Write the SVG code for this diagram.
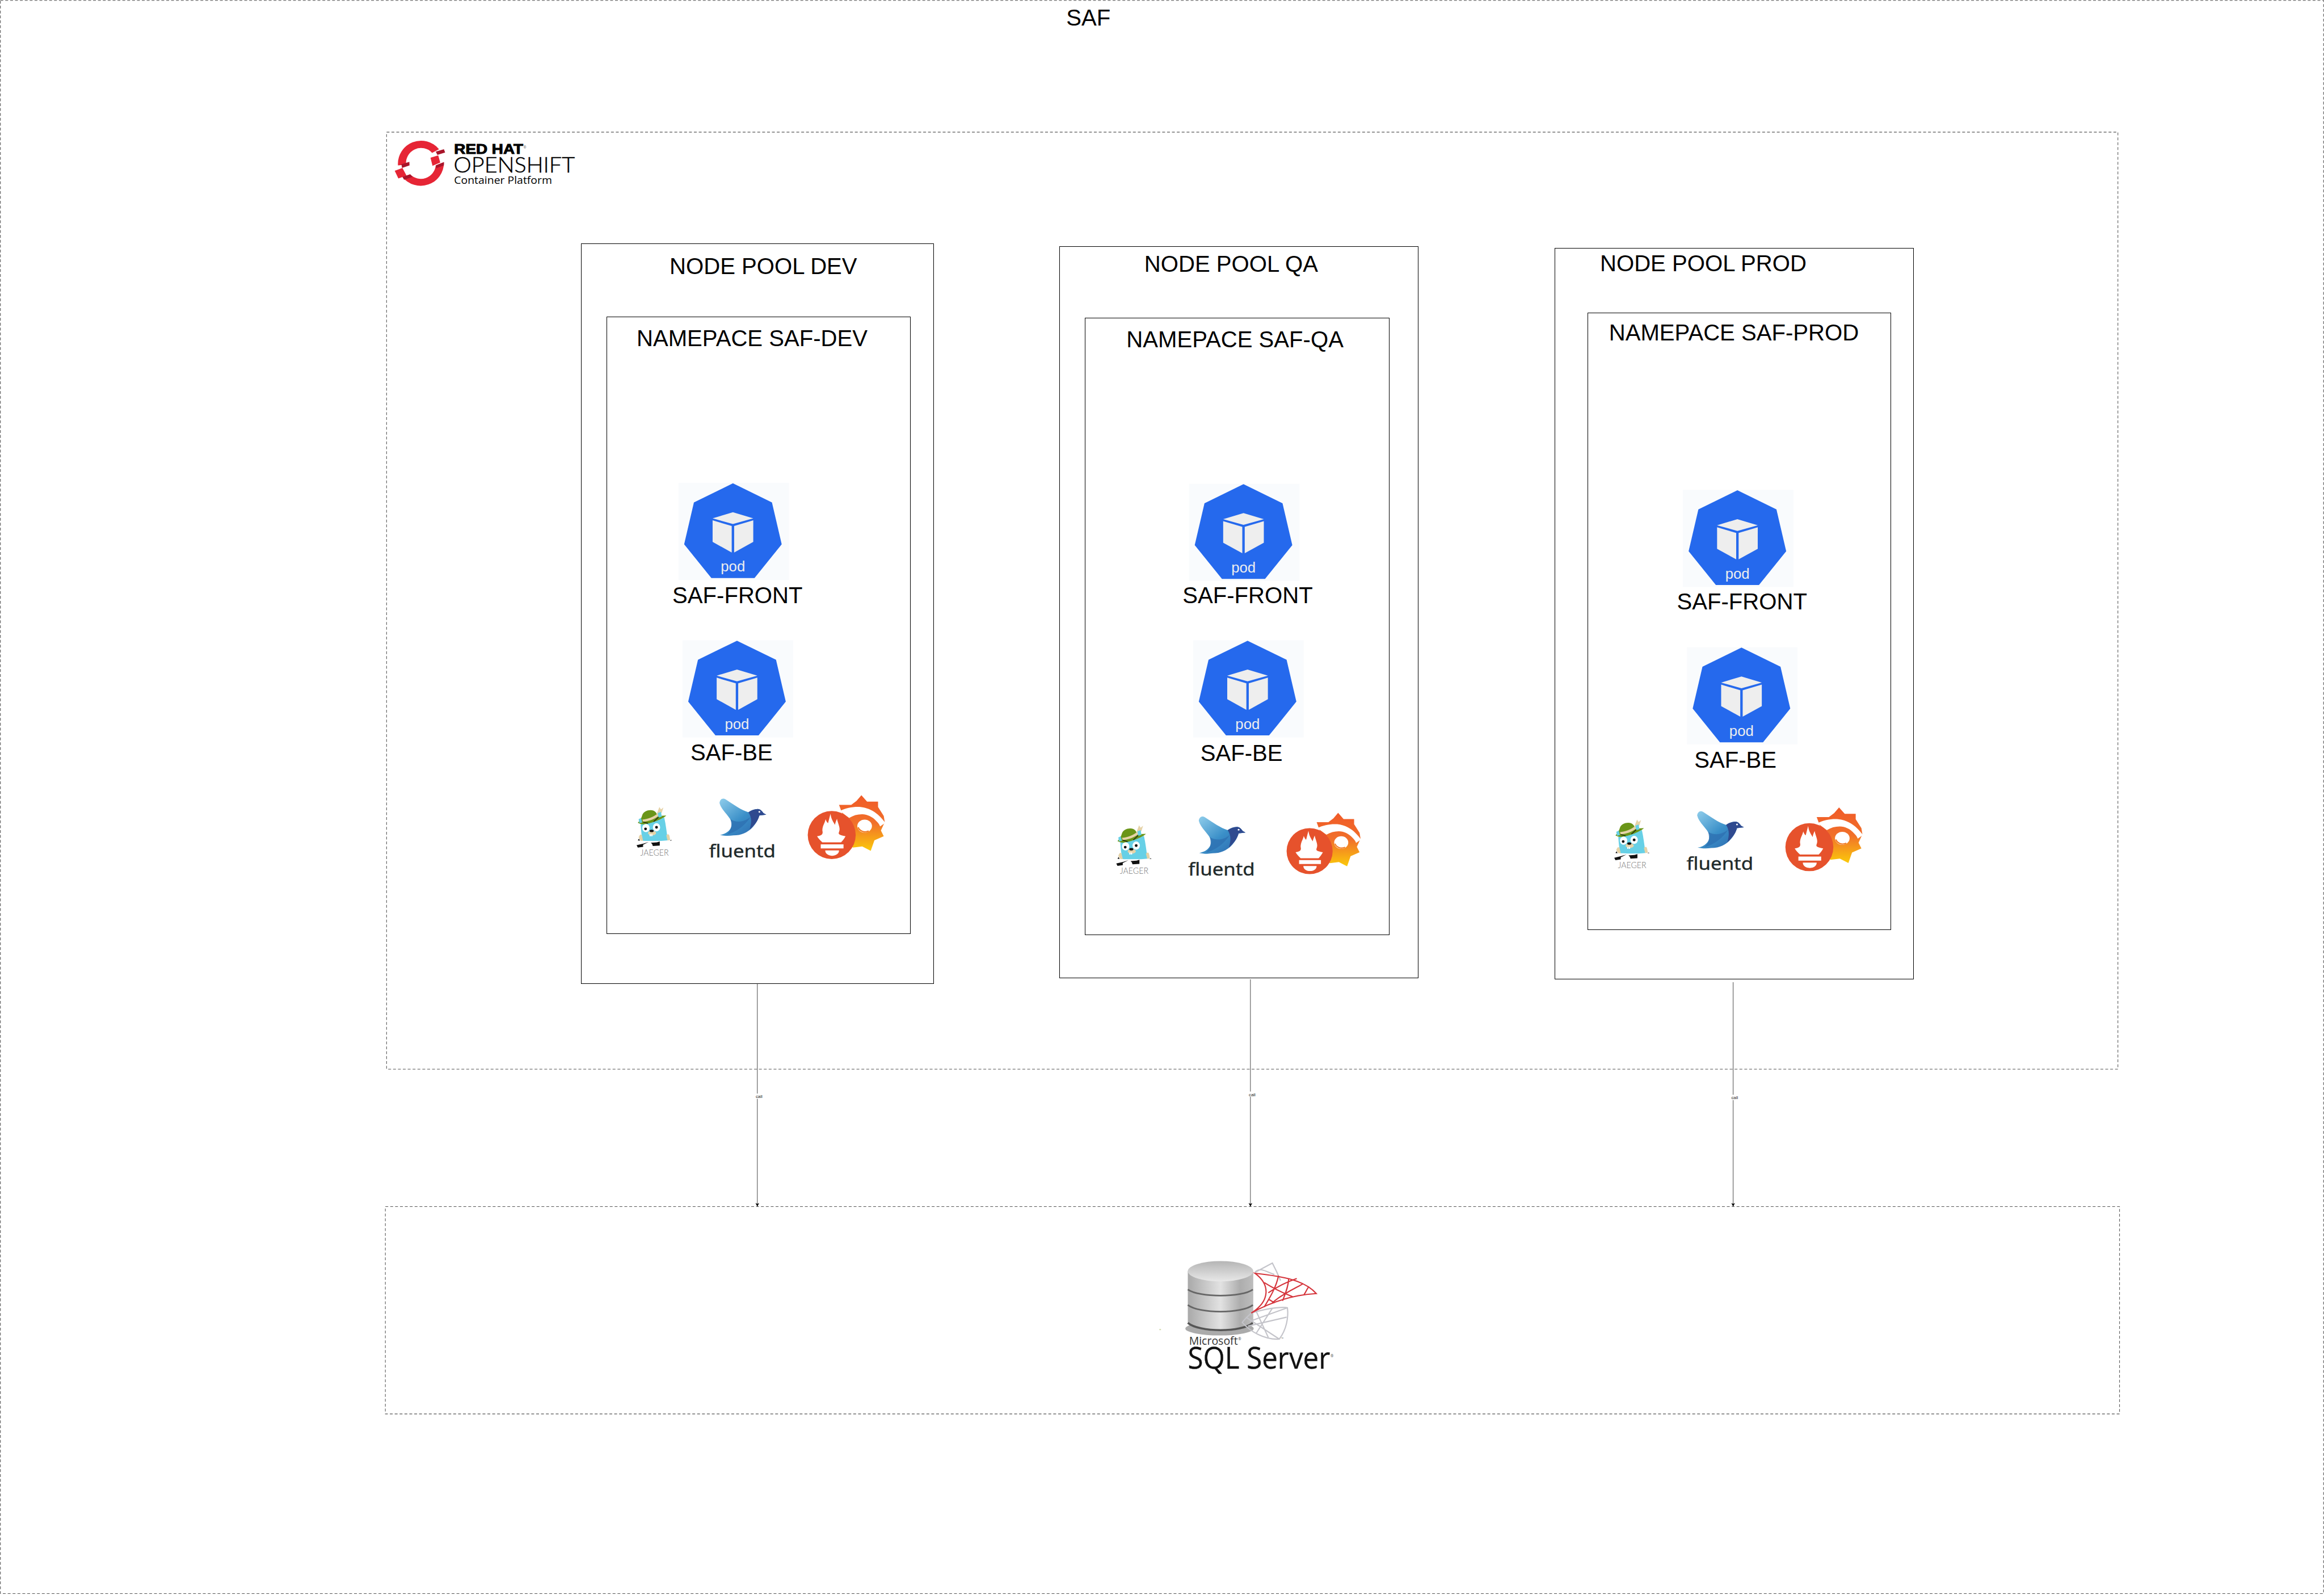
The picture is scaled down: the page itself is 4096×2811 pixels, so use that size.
<svg xmlns="http://www.w3.org/2000/svg" width="4096" height="2811" viewBox="0 0 4096 2811">
<style>
.box{fill:#fff;stroke:#000;stroke-width:1.4;shape-rendering:crispEdges}
.dash{fill:none;stroke:#555;stroke-width:1.5;stroke-dasharray:7 5}
.t{font-family:"Liberation Sans",Arial,sans-serif;font-size:56px;fill:#000}
.pod{font-family:"Liberation Sans",Arial,sans-serif;font-size:36px;fill:#eee;text-anchor:middle}
.jg{font-family:"Lato","Liberation Sans",sans-serif;font-weight:300;font-size:21px;fill:#777}
.fd{font-family:"Noto Sans","Liberation Sans",sans-serif;font-size:44px;fill:#1f2a2b;stroke:#1f2a2b;stroke-width:.6}
.call{font-family:"Liberation Sans",Arial,sans-serif;font-size:11px;fill:#222}
.conn{fill:none;stroke:#555;stroke-width:1.5}
</style>
<defs>
<marker id="arr" markerUnits="userSpaceOnUse" markerWidth="12" markerHeight="12" viewBox="0 0 12 12" refX="10" refY="6" orient="auto"><path d="M1.5,1.5 L10,6 L1.5,10.5 L3.5,6Z" fill="#000"/></marker>
<linearGradient id="birdG" x1="0" y1="0" x2="1" y2="1"><stop offset="0" stop-color="#8fcdeb"/><stop offset=".5" stop-color="#3a8fc8"/><stop offset="1" stop-color="#2a5fa8"/></linearGradient>
<linearGradient id="gearG" x1="0" y1="0" x2="0" y2="1"><stop offset="0" stop-color="#f05a28"/><stop offset=".5" stop-color="#f1702a"/><stop offset="1" stop-color="#fbca0a"/></linearGradient>
<linearGradient id="cylG" x1="0" y1="0" x2="1" y2="0"><stop offset="0" stop-color="#a9a9a9"/><stop offset=".5" stop-color="#e2e2e2"/><stop offset=".8" stop-color="#adadad"/><stop offset="1" stop-color="#bdbdbd"/></linearGradient>
<linearGradient id="topG" x1="0" y1="0" x2="0" y2="1"><stop offset="0" stop-color="#b5b5b5"/><stop offset="1" stop-color="#e8e8e8"/></linearGradient>
<g id="podIcon">
<rect width="272" height="239" fill="#f9fbfd"/>
<polygon points="134,1 230,48 254,151 187,234 81,234 14,151 38,48" fill="#2569ed"/>
<polygon points="134,72 184,87 134,101 84,87" fill="#eee"/>
<polygon points="84,92 131,106 131,171 84,145" fill="#eee"/>
<polygon points="137,106 184,92 184,145 137,171" fill="#eee"/>
</g>
<g id="jaegerArt">
<path d="M8,45 C20,40 50,34 66,28 C70,45 72,65 75,84 C60,86 30,86 13,85 C10,70 9,60 8,45Z" fill="#67d0e6"/>
<path d="M3,77 C6,70 8,68 11,72 L14,85 L8,85Z M71,72 C74,68 78,68 79,74 C80,80 82,84 78,84 L74,84Z" fill="#e6d3a8"/>
<path d="M1,41 C6,36 10,30 12,22 C16,10 38,5 46,16 L50,24 L71,23 C62,32 34,42 20,44 C12,46 6,44 1,41Z" fill="#6a9518"/>
<path d="M12,33 C26,32 40,26 50,18 L52,24 C42,32 26,38 14,38Z" fill="#e6d3a8"/>
<path d="M48,18 L54,2 L58,8 L64,3 L60,16 L52,22Z" fill="#e6d3a8"/>
<path d="M3,32 L9,29 L12,40 L5,42Z M50,17 L58,14 L60,26 L52,28Z" fill="#67d0e6"/>
<path d="M14,39 L26,42 M40,38 L52,27" stroke="#111" stroke-width="1.6" fill="none"/>
<ellipse cx="21" cy="54" rx="9" ry="10" fill="#fff"/><ellipse cx="47" cy="52" rx="9" ry="10" fill="#fff"/>
<circle cx="20" cy="56" r="3.4" fill="#111"/><circle cx="47" cy="52" r="3.4" fill="#111"/>
<ellipse cx="36" cy="66" rx="10" ry="6" fill="#e6d3a8"/><ellipse cx="35" cy="61" rx="5" ry="3" fill="#111"/>
<rect x="30" y="69" width="3" height="5" fill="#fff"/><rect x="34" y="69" width="3" height="5" fill="#fff"/>
<path d="M-2,96 L15,92 L28,88 L14,95 L14,100 L1,102Z M33,90 L48,89 L55,87 L55,97 L38,98 L36,93Z" fill="#111"/>
<path d="M1,84 L4,80 L6,85Z M82,83 L85,84 L80,85Z" fill="#111"/>
</g>
<g id="birdArt">
<path d="M26,12 C27,2 35,-1 42,4 C60,16 80,30 97,35 C105,30 112,27 120,27 C127,27 131,33 134,37 L141,41 L124,43 C118,62 100,92 60,92 C48,94 36,93 27,91 C45,88 58,76 56,60 C52,45 30,30 26,12Z" fill="url(#birdG)"/>
<path d="M53,52 C70,63 90,58 103,46 C92,62 74,82 44,90 C54,80 58,70 53,52Z" fill="#2e6fb0" opacity=".75"/>
<path d="M97,35 C105,30 112,27 120,27 C127,27 131,33 134,37 L141,41 L124,43 C120,58 112,66 100,78 C105,62 106,48 97,35Z" fill="#2f4a8f"/>
<circle cx="124" cy="34" r="2.2" fill="#fff"/>
</g>
<g id="promGraf">
<path d="M132,-39 L146,-23 L173,-23 L173,-10 L187,12 L189.5,27 L180,48 L187,62 L164,72 L155,98 L134,87 L111,90 L66,42 L90,20 L77,-15 L107,-15 L120,-25Z" fill="url(#gearG)"/>
<path d="M79,0 C95,-8 112,-11 130,-10 C150,-8 166,2 176,12 C182,18 186,23 191,29 L178,38 C176,32 172,28 169,25 C160,14 146,8 134,8 C122,8 112,11 102,17Z" fill="#fff"/>
<ellipse cx="140" cy="37" rx="18" ry="16" fill="#fff"/>
<path d="M150,49 C140,54 128,50 124,40" fill="none" stroke="#f07a24" stroke-width="3"/>
<circle cx="59" cy="59" r="59" fill="#e6522c"/>
<path d="M56,7 C58,22 64,28 67,34 C68,28 70,24 72,19 C74,30 80,40 78,48 C76,56 72,58 93,62 C90,68 85,74 82,77 L36,77 C30,72 26,67 23,62 C36,60 38,56 36,48 C36,36 42,30 44,20 C46,26 48,28 50,30 C52,22 54,14 56,7Z" fill="#fff"/>
<rect x="32" y="82" width="56" height="10" fill="#fff"/>
<path d="M43,97 L77,97 C77,106 68,110 60,110 C52,110 43,106 43,97Z" fill="#fff"/>
</g>
</defs>
<rect width="4096" height="2811" fill="#fff"/>
<g transform="scale(0.71646)">
<g id="saf"><rect class="dash" x="1" y="1" width="5715" height="3919"/><text class="t" x="2623" y="63">SAF</text></g>
<g id="openshift">
<rect class="dash" x="951" y="325" width="4259" height="2305"/>
<path d="M979,407 A57,57 0 0 1 1080,367 L1063,376 A37,37 0 0 0 999,405Z" fill="#e62535"/>
<path d="M1072,373 L1092,367 L1095,375 L1076,381Z M987.500,404 L1007,398 L1007.400,407 L989,413Z" fill="#a8152a"/>
<path d="M971,420 L990,413 L1000,432 L980,439Z M1059,388 L1078,382 L1083,400 L1064,408Z" fill="#e62535"/>
<path d="M1092,399 A57,57 0 0 1 990,435 L1009,429 A37,37 0 0 0 1072,407Z" fill="#e62535"/>
<path d="M990,435 L1009,429 L1015,435 L994,442Z M1072,407 L1092,399 L1092,407 L1073,414Z" fill="#a8152a"/>
<text x="1117" y="378" font-family="'Liberation Sans',Arial,sans-serif" font-weight="700" font-size="34" textLength="170" lengthAdjust="spacingAndGlyphs" stroke="#000" stroke-width="1.4">RED HAT</text>
<text x="1288" y="366" font-family="'Liberation Sans',Arial,sans-serif" font-size="9" fill="#555">®</text>
<text x="1116" y="424" font-family="Lato,'Open Sans',sans-serif" font-weight="300" font-size="53" textLength="298" lengthAdjust="spacingAndGlyphs" fill="#000" stroke="#000" stroke-width=".7">OPENSHIFT</text>
<text x="1117" y="452" font-family="'Open Sans','Liberation Sans',sans-serif" font-size="26" textLength="241" lengthAdjust="spacingAndGlyphs">Container Platform</text>
</g>
<g id="pool-dev">
<rect class="box" x="1429.500" y="600" width="867" height="1820"/>
<text class="t" x="1647" y="674">NODE POOL DEV</text>
</g>
<g id="ns-dev">
<rect class="box" x="1492.500" y="780" width="747.500" height="1517"/>
<text class="t" x="1566" y="851">NAMEPACE SAF-DEV</text>
</g>
<g id="dev-front"><use href="#podIcon" x="1669" y="1188"/><text class="pod" x="1803" y="1406">pod</text><text class="t" x="1654" y="1483">SAF-FRONT</text></g>
<g id="dev-be"><use href="#podIcon" x="1679" y="1575"/><text class="pod" x="1813" y="1793">pod</text><text class="t" x="1698.500" y="1871">SAF-BE</text></g>
<g id="dev-jaeger"><use href="#jaegerArt" x="1568" y="1983"/><text class="jg" x="1575" y="2105" textLength="70" lengthAdjust="spacingAndGlyphs">JAEGER</text></g>
<g id="dev-fluentd"><use href="#birdArt" x="1744" y="1963"/><text class="fd" x="1744" y="2109" textLength="164" lengthAdjust="spacingAndGlyphs">fluentd</text></g>
<g id="dev-prom"><use href="#promGraf" x="1987" y="1995"/></g>
<g id="pool-qa">
<rect class="box" x="2607" y="607" width="881" height="1798"/>
<text class="t" x="2815" y="669">NODE POOL QA</text>
</g>
<g id="ns-qa">
<rect class="box" x="2669" y="782" width="748" height="1517"/>
<text class="t" x="2771" y="854">NAMEPACE SAF-QA</text>
</g>
<g id="qa-front"><use href="#podIcon" x="2925" y="1190"/><text class="pod" x="3059" y="1408">pod</text><text class="t" x="2909" y="1484">SAF-FRONT</text></g>
<g id="qa-be"><use href="#podIcon" x="2935" y="1575"/><text class="pod" x="3069" y="1793">pod</text><text class="t" x="2953" y="1872">SAF-BE</text></g>
<g id="qa-jaeger"><use href="#jaegerArt" x="2748" y="2028"/><text class="jg" x="2755" y="2150" textLength="70" lengthAdjust="spacingAndGlyphs">JAEGER</text></g>
<g id="qa-fluentd"><use href="#birdArt" x="2923" y="2007"/><text class="fd" x="2923" y="2153" textLength="164" lengthAdjust="spacingAndGlyphs">fluentd</text></g>
<g id="qa-prom"><use href="#promGraf" transform="translate(3165,2037) scale(.96)"/></g>
<g id="pool-prod">
<rect class="box" x="3825" y="611" width="882" height="1798"/>
<text class="t" x="3936" y="667">NODE POOL PROD</text>
</g>
<g id="ns-prod">
<rect class="box" x="3906" y="770" width="746" height="1517"/>
<text class="t" x="3958" y="837">NAMEPACE SAF-PROD</text>
</g>
<g id="prod-front"><use href="#podIcon" x="4140" y="1205"/><text class="pod" x="4274" y="1423">pod</text><text class="t" x="4125" y="1499">SAF-FRONT</text></g>
<g id="prod-be"><use href="#podIcon" x="4150" y="1592"/><text class="pod" x="4284" y="1810">pod</text><text class="t" x="4168" y="1888">SAF-BE</text></g>
<g id="prod-jaeger"><use href="#jaegerArt" x="3973" y="2014"/><text class="jg" x="3980" y="2136" textLength="70" lengthAdjust="spacingAndGlyphs">JAEGER</text></g>
<g id="prod-fluentd"><use href="#birdArt" x="4149" y="1994"/><text class="fd" x="4149" y="2140" textLength="164" lengthAdjust="spacingAndGlyphs">fluentd</text></g>
<g id="prod-prom"><use href="#promGraf" x="4392" y="2025"/></g>
<g id="sqlserver">
<rect class="dash" x="948" y="2968" width="4266" height="510"/>
<ellipse cx="3000" cy="3268" rx="84" ry="17" fill="#666" opacity=".55"/>
<path d="M2922,3127 L2922,3252 C2935,3282 3070,3282 3083,3252 L3083,3127Z" fill="url(#cylG)"/>
<ellipse cx="3002.500" cy="3127" rx="80.500" ry="25" fill="url(#topG)"/>
<path d="M2922,3172 C2950,3192 3055,3192 3082,3172 M2922,3210 C2950,3232 3055,3232 3082,3210" fill="none" stroke="#666" stroke-width="4"/>
<path d="M2922,3254 C2950,3278 3055,3278 3082,3254" fill="none" stroke="#555" stroke-width="5"/>
<g fill="none" stroke="#c4c4ca" stroke-width="3">
<path d="M3087,3130 L3130,3107 C3142,3130 3145,3138 3150,3150 M3087,3130 C3100,3115 3118,3130 3135,3135"/>
<path d="M3056,3253 C3065,3240 3085,3225 3077,3230 C3130,3215 3160,3215 3167,3217 C3170,3240 3165,3270 3147,3294 C3110,3296 3075,3275 3056,3253Z"/>
<path d="M3065,3240 L3147,3294 M3090,3225 L3120,3290 M3130,3218 L3090,3280 M3165,3240 L3070,3262 M3167,3217 L3075,3250"/>
</g>
<g fill="none" stroke="#d5353c" stroke-width="3">
<path d="M3087,3132 C3160,3140 3210,3150 3238,3182 C3190,3184 3130,3200 3078,3230 C3125,3200 3125,3160 3087,3132Z"/>
<path d="M3110,3155 C3150,3180 3170,3185 3180,3190 M3120,3180 C3150,3160 3175,3150 3190,3145 M3145,3138 C3140,3165 3125,3190 3110,3215 M3170,3145 C3170,3160 3165,3175 3155,3200 M3205,3158 C3185,3170 3150,3185 3130,3205 M3120,3195 L3135,3205 M3220,3165 C3215,3170 3212,3180 3208,3184"/>
</g>
<rect x="2852" y="3269" width="4" height="3" fill="#d5dcb0"/>
<text x="3152" y="3296" font-family="'Open Sans',sans-serif" font-size="7" fill="#555">™</text>
<text x="2925" y="3308" font-family="'Open Sans','Liberation Sans',sans-serif" font-size="28" fill="#333" textLength="120" lengthAdjust="spacingAndGlyphs">Microsoft</text>
<text x="3046" y="3297" font-family="'Open Sans',sans-serif" font-size="9" fill="#444">®</text>
<text x="2922" y="3367" font-family="'Open Sans','Liberation Sans',sans-serif" font-size="74" fill="#111" stroke="#111" stroke-width=".5" textLength="350" lengthAdjust="spacingAndGlyphs">SQL Server</text>
<text x="3273" y="3338" font-family="'Open Sans',sans-serif" font-size="9" fill="#444">®</text>
</g>
<g id="connectors">
<line class="conn" x1="1863" y1="2420" x2="1863" y2="2968" marker-end="url(#arr)"/>
<line class="conn" x1="3076" y1="2409" x2="3076" y2="2968" marker-end="url(#arr)"/>
<line class="conn" x1="4263.500" y1="2416" x2="4263.500" y2="2968" marker-end="url(#arr)"/>
<rect x="1859" y="2690" width="16" height="13" fill="#fff"/><text class="call" x="1859" y="2701">call</text>
<rect x="3072" y="2685" width="16" height="13" fill="#fff"/><text class="call" x="3072" y="2696">call</text>
<rect x="4259" y="2693" width="16" height="13" fill="#fff"/><text class="call" x="4259" y="2704">call</text>
</g>
</g>
</svg>
